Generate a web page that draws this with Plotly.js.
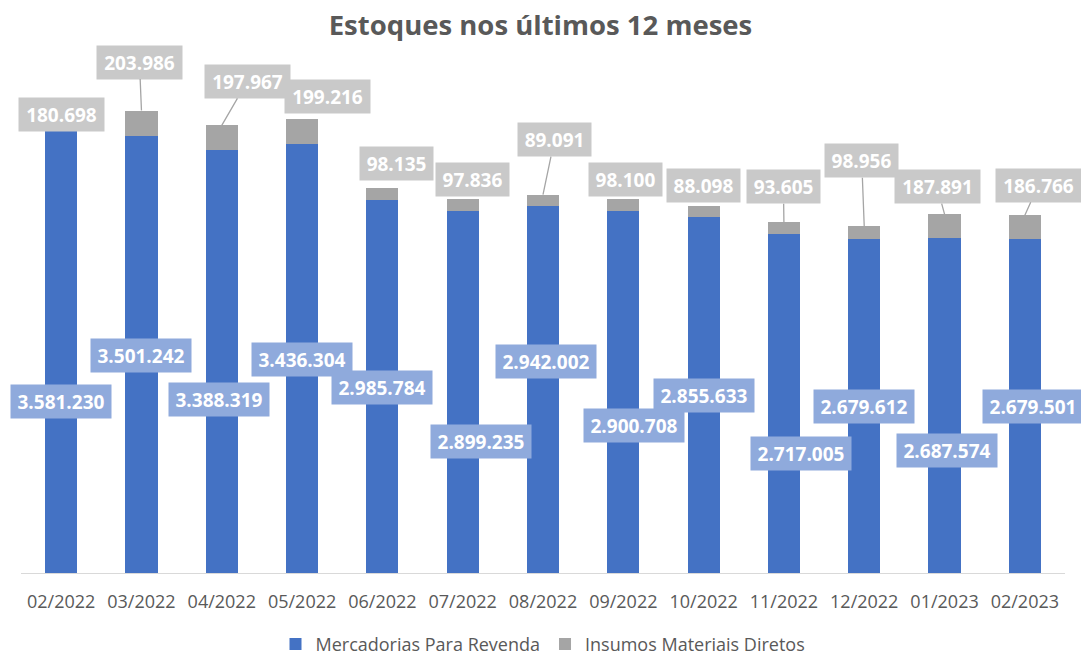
<!DOCTYPE html>
<html>
<head>
<meta charset="utf-8">
<script src="https://cdn.plot.ly/plotly-3.0.1.min.js"></script>
<style>html,body{margin:0;padding:0;background:#fff;}#chart{width:1081px;height:656px;}</style>
</head>
<body>
<div id="chart"></div>
<script>
// ---- data ----
const categories = ['02/2022','03/2022','04/2022','05/2022','06/2022','07/2022','08/2022','09/2022','10/2022','11/2022','12/2022','01/2023','02/2023'];
const mercadorias = [3581230, 3501242, 3388319, 3436304, 2985784, 2899235, 2942002, 2900708, 2855633, 2717005, 2679612, 2687574, 2679501];
const insumos = [180698, 203986, 197967, 199216, 98135, 97836, 89091, 98100, 88098, 93605, 98956, 187891, 186766];
const seriesNames = ['Mercadorias Para Revenda', 'Insumos Materiais Diretos'];

// ---- label layout (pixel offsets, manually placed labels as in the original) ----
const blueLabelDx = [0, 0, -2.5, 0, 0, 18, 2.6, 11, 0, 16.6, 0, 2.5, 8];
const blueLabelLift = [171.5, 217.5, 173.5, 214, 186, 131.5, 211.5, 147.5, 177.5, 120, 166.5, 122.5, 166.5];
const grayLabelDx = [0, -2, 25.5, 25, 14, 9.5, 11.5, 2.5, 0, -0.5, -2.5, -7.5, 13.5];
const grayLabelDy = [11, -48.5, -44, -23, -24.5, -19.5, -55, -19.5, -20, -35.5, -65.5, -27.5, -30];
const grayLeader = [false, true, true, false, false, false, true, false, false, true, true, true, true];

function fmt(v) { return String(v).replace(/\B(?=(\d{3})+(?!\d))/g, '.'); }

const BLUE = '#4472C4', GRAY = '#A5A5A5';
const labelFont = {family: 'Open Sans', size: 19, color: '#FFFFFF', weight: 700};

const traces = [
  {type: 'bar', name: seriesNames[0], x: categories, y: mercadorias, marker: {color: BLUE}, hoverinfo: 'skip'},
  {type: 'bar', name: seriesNames[1], x: categories, y: insumos, marker: {color: GRAY}, hoverinfo: 'skip'}
];

const annotations = [];
categories.forEach((c, i) => {
  annotations.push({
    x: c, y: 0, xref: 'x', yref: 'y', text: fmt(mercadorias[i]), showarrow: false,
    xshift: blueLabelDx[i], yshift: blueLabelLift[i], xanchor: 'center', yanchor: 'middle',
    bgcolor: '#8FAADC', borderpad: 4, width: 92, height: 25, font: labelFont
  });
  const t = fmt(insumos[i]);
  const w = t.length >= 7 ? 77 : 65;
  const total = mercadorias[i] + insumos[i];
  const a = {
    x: c, y: total, xref: 'x', yref: 'y', text: t,
    bgcolor: '#C9C9C9', borderpad: 4, width: w, height: 25, font: labelFont
  };
  if (grayLeader[i]) {
    Object.assign(a, {showarrow: true, arrowhead: 0, arrowwidth: 1.3, arrowcolor: GRAY, ax: grayLabelDx[i], ay: grayLabelDy[i], standoff: 0});
  } else {
    Object.assign(a, {showarrow: false, xshift: grayLabelDx[i], yshift: -grayLabelDy[i], xanchor: 'center', yanchor: 'middle'});
  }
  annotations.push(a);
});

const layout = {
  width: 1081, height: 656, autosize: false,
  margin: {l: 21, r: 16, t: 60, b: 83, autoexpand: false},
  paper_bgcolor: '#FFFFFF', plot_bgcolor: '#FFFFFF',
  barmode: 'stack', bargap: 0.6,
  showlegend: true,
  title: {
    text: 'Estoques nos últimos 12 meses',
    font: {family: 'Open Sans', size: 27.5, color: '#595959', weight: 700},
    x: 0.5, xanchor: 'center', yref: 'container', y: 0.962, yanchor: 'middle', automargin: false
  },
  xaxis: {
    type: 'category', range: [-0.5, categories.length - 0.5], autorange: false,
    showline: true, linecolor: '#D9D9D9', linewidth: 1.3, automargin: false,
    ticks: 'outside', ticklen: 12, tickcolor: 'rgba(0,0,0,0)',
    tickfont: {family: 'Open Sans', size: 18, color: '#595959'},
    showgrid: false, zeroline: false, fixedrange: true
  },
  yaxis: {
    range: [0, 4110500], autorange: false, visible: false, showgrid: false, zeroline: false, fixedrange: true, automargin: false
  },
  legend: {
    orientation: 'h', x: 0.5, xanchor: 'center', yref: 'container', y: 0.018, yanchor: 'middle',
    font: {family: 'Open Sans', size: 18, color: '#595959'}, traceorder: 'normal'
  },
  annotations: annotations
};

Plotly.newPlot('chart', traces, layout, {staticPlot: true, displayModeBar: false});
</script>
</body>
</html>
